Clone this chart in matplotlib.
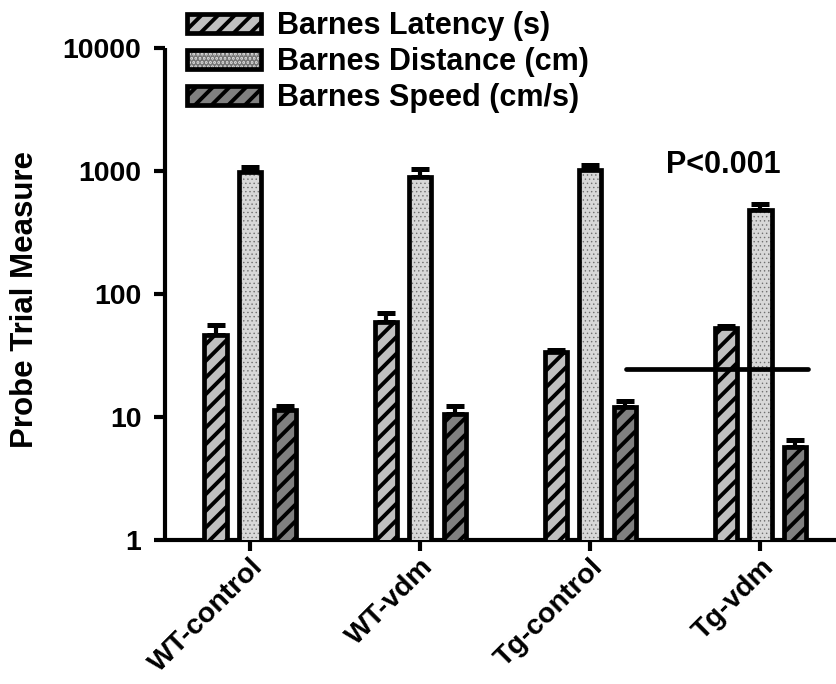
import matplotlib
matplotlib.use("Agg")
import matplotlib.pyplot as plt
import matplotlib.patches as mpatches
from matplotlib.legend_handler import HandlerTuple
import numpy as np

plt.rcParams['font.family'] = ['Liberation Sans', 'DejaVu Sans']
plt.rcParams['font.weight'] = 'bold'

categories = ["WT-control", "WT-vdm", "Tg-control", "Tg-vdm"]
series = ["Barnes Latency (s)", "Barnes Distance (cm)", "Barnes Speed (cm/s)"]
latency = [46, 59, 34, 53]
latency_err = [10, 11, 1, 1.5]
distance = [980, 900, 1010, 480]
distance_err = [90, 130, 100, 60]
speed = [11.5, 10.6, 12.0, 5.7]
speed_err = [0.9, 1.6, 1.5, 0.8]
sig_line_value = 24.5
sig_text = "P<0.001"

fig = plt.figure(figsize=(8.37, 6.84), dpi=100)
ax = fig.add_axes([165/837, 1-540/684, 1-165/837, (540-48)/684])

x = np.arange(len(categories))
w = 0.13
off = 0.203
lw = 3.4
styles = [
    dict(face='#c0c0c0', hatch='//', hcol='black', hlw=2.8),
    dict(face='#d8d8d8', hatch='....', hcol='#707070', hlw=0.5),
    dict(face='#808080', hatch='//', hcol='black', hlw=2.8),
]
vals = [latency, distance, speed]
errs = [latency_err, distance_err, speed_err]

handles = []
for i, (v, e, st) in enumerate(zip(vals, errs, styles)):
    xs = x + (i - 1) * off
    ax.errorbar(xs, v, yerr=[np.zeros(len(v)), e], fmt='none', ecolor='black',
                elinewidth=3.0, capsize=6.5, capthick=3.6, zorder=2)
    plt.rcParams['hatch.linewidth'] = st['hlw']
    hb = ax.bar(xs, v, width=w, color=st['face'], edgecolor=st['hcol'],
                hatch=st['hatch'], linewidth=0, zorder=3)
    for p in hb:
        try:
            p.set_hatch_linewidth(st['hlw'])
        except Exception:
            pass
    ax.bar(xs, v, width=w, fill=False, edgecolor='black', linewidth=lw, zorder=4)
    ph = mpatches.Patch(facecolor=st['face'], edgecolor=st['hcol'], hatch=st['hatch'], linewidth=0)
    try:
        ph.set_hatch_linewidth(st['hlw'])
    except Exception:
        pass
    pe = mpatches.Patch(fill=False, edgecolor='black', linewidth=lw, joinstyle='round')
    handles.append((ph, pe))

ax.set_yscale('log')
ax.set_ylim(1, 10000)
ax.set_xlim(-0.5, 3.45)
ax.set_yticks([1, 10, 100, 1000, 10000])
ax.set_yticklabels(['1', '10', '100', '1000', '10000'])
ax.yaxis.set_minor_locator(matplotlib.ticker.NullLocator())
ax.set_xticks(x)
ax.set_xticklabels(categories, rotation=45, ha='right', rotation_mode='anchor')

for s in ['top', 'right']:
    ax.spines[s].set_visible(False)
for s in ['left', 'bottom']:
    ax.spines[s].set_linewidth(3.0)
    ax.spines[s].set_capstyle('butt')
ax.tick_params(axis='both', width=3.0, length=8, direction='out')
ax.tick_params(axis='y', labelsize=20.5, pad=9)
ax.tick_params(axis='x', labelsize=20.5, pad=2)
for t in ax.get_xticklabels() + ax.get_yticklabels():
    t.set_fontweight('bold')

ax.set_ylabel("Probe Trial Measure", fontsize=22.5, fontweight='bold')
ax.yaxis.set_label_coords(-(165-40)/672, 0.5 - (300 - 294) / 492)

# significance line
ax.plot([2.21, 3.28], [sig_line_value, sig_line_value], color='black', lw=3.4,
        solid_capstyle='round', zorder=5)
ax.text(2.78, 1120, sig_text, ha='center', va='center', fontsize=22, fontweight='bold')

leg = fig.legend(handles, series, loc='upper left', bbox_to_anchor=(175/837, 1.0 + 1/684),
                 frameon=False, fontsize=22, handlelength=2.4, handleheight=0.6,
                 labelspacing=0.2, handletextpad=0.55,
                 handler_map={tuple: HandlerTuple(ndivide=1)}, borderaxespad=0.0)
for t in leg.get_texts():
    t.set_fontweight('bold')

fig.savefig("out.png", dpi=100)
